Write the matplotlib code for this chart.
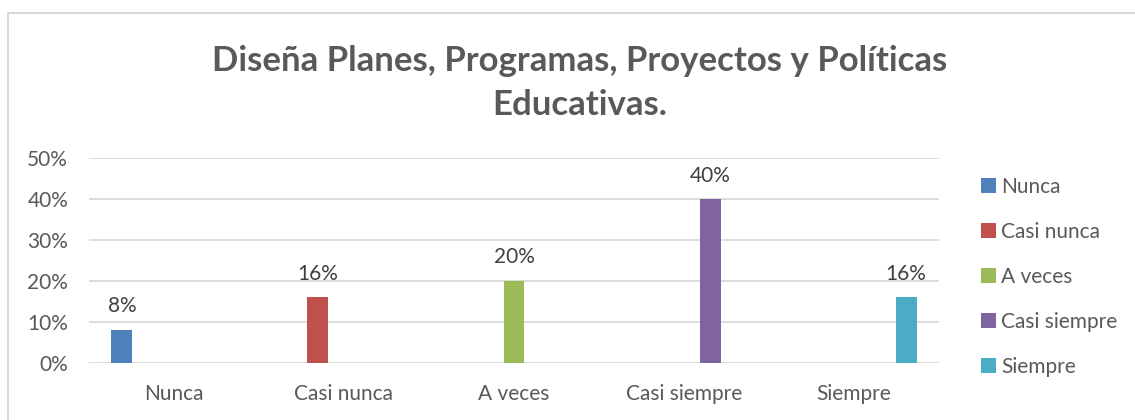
import matplotlib
matplotlib.use("Agg")
import matplotlib.pyplot as plt
from matplotlib.patches import Rectangle
from matplotlib.ticker import PercentFormatter

plt.rcParams['font.family'] = ['Lato', 'DejaVu Sans']

# Data
categories = ["Nunca", "Casi nunca", "A veces", "Casi siempre", "Siempre"]
series_names = ["Nunca", "Casi nunca", "A veces", "Casi siempre", "Siempre"]
values = [0.08, 0.16, 0.20, 0.40, 0.16]
colors = ["#4F81BD", "#C0504D", "#9BBB59", "#8064A2", "#4BACC6"]
title = "Diseña Planes, Programas, Proyectos y Políticas\nEducativas."

text_color = "#595959"
grid_color = "#D9D9D9"

fig = plt.figure(figsize=(11.35, 4.2), dpi=100)
ax = fig.add_axes([89 / 1135, 1 - 362.7 / 420, 850 / 1135, 204.4 / 420])

slot = 0.153
width = 0.1235
x = list(range(len(categories)))
for i, name in enumerate(series_names):
    # each series only has a value in its own category
    heights = [values[i] if j == i else 0 for j in x]
    pos = [j + (i - 2) * slot for j in x]
    bars = ax.bar(pos, heights, width=width, color=colors[i], label=name, zorder=3)
    ax.annotate(f"{values[i]:.0%}", (pos[i], values[i]), xytext=(0, 17),
                textcoords="offset points", ha="center", va="center",
                fontsize=15, color="#404040")

ax.set_xlim(-0.5, len(categories) - 0.5)
ax.set_ylim(0, 0.5)
ax.set_yticks([0, 0.1, 0.2, 0.3, 0.4, 0.5])
ax.yaxis.set_major_formatter(PercentFormatter(1.0, decimals=0))
ax.set_xticks(x)
ax.set_xticklabels(categories)
ax.tick_params(axis="both", length=0, labelsize=15, labelcolor=text_color)
ax.tick_params(axis="x", pad=15)
ax.tick_params(axis="y", pad=15)
ax.grid(axis="y", color=grid_color, linewidth=1.3, zorder=0)
for s in ax.spines.values():
    s.set_visible(False)

fig.text(580 / 1135, 1 - 83 / 420, title, ha="center", va="center",
         fontsize=25, fontweight="bold", color=text_color, linespacing=1.45)

leg = ax.legend(loc="center left", bbox_to_anchor=(981 / 1135, 1 - 277 / 420),
                bbox_transform=fig.transFigure, frameon=False, fontsize=15,
                labelspacing=1.2, handlelength=0.7, handleheight=0.7,
                handletextpad=0.25, borderaxespad=0, borderpad=0)
for t in leg.get_texts():
    t.set_color(text_color)

fig.add_artist(Rectangle((7.5 / 1135, -0.2), 2, 1 - 13 / 420 + 0.2,
                         transform=fig.transFigure, fill=False,
                         edgecolor=grid_color, linewidth=1.5))

fig.savefig("out.png", dpi=100)
